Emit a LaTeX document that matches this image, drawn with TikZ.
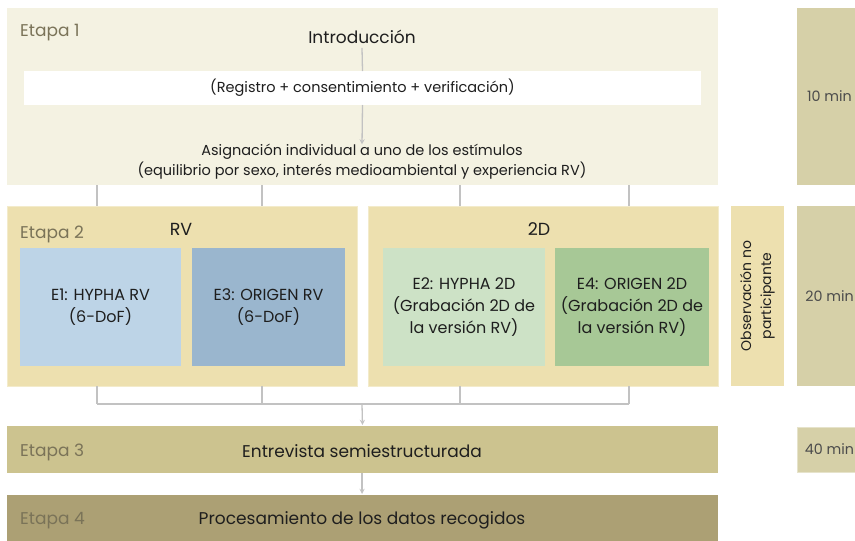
\documentclass[tikz,border=0pt]{standalone}
\usepackage{fontspec}
\setmainfont{Poppins}
\usetikzlibrary{positioning, arrows, calc}
\definecolor{crema}{HTML}{F4F2E2}
\definecolor{arena}{HTML}{EDE0AF}
\definecolor{arenaborde}{HTML}{F3EBCB}
\definecolor{azulclaro}{HTML}{BDD4E7}
\definecolor{azul}{HTML}{9AB6CE}
\definecolor{verdeclaro}{HTML}{CDE2C6}
\definecolor{verde}{HTML}{A7C896}
\definecolor{tiempo}{HTML}{D6D0A8}
\definecolor{oliva}{HTML}{CCC38F}
\definecolor{olivaoscuro}{HTML}{ACA074}
\definecolor{etiqueta}{HTML}{7A7358}
\definecolor{conector}{HTML}{C2C2C2}
\definecolor{texto}{HTML}{1E1E1E}
\tikzset{
  fase/.style={
	inner sep=0pt, outer sep=0pt, % sizes are given by the minimum sizes
	text=texto, font=\fontsize{17}{20}\selectfont,
  },
  caja/.style={fase, minimum width=#1}, % box with a given width
  estimulo/.style={fase, minimum height=118pt, align=center,
	font=\fontsize{16}{22}\selectfont}, % the four stimuli
  etapa/.style={anchor=west, inner sep=0pt, text=etiqueta, font=\fontsize{17}{20}\selectfont}, % Etapa n
  minutos/.style={fase, fill=tiempo, minimum width=58pt, text=black!70,
	font=\fontsize{14.3}{17}\selectfont},
  conn/.style={draw=conector, line width=1.3pt},
  flecha/.style={conn, ->, >=stealth, shorten >=1pt},
}
\begin{document}
\begin{tikzpicture}[x=1pt, y=-1pt]
\useasboundingbox (0,0) rectangle (855,541);

% Etapa 1
\node[caja=711pt, fill=crema, minimum height=177pt] (etapa1) at (362.5,96.5) {};
\node[caja=677pt, fill=white, minimum height=34pt, font=\fontsize{14.5}{17}\selectfont]
	(registro) at (362.5,88) {(Registro + consentimiento + verificación)};
\node[fase] (intro) at (362,37) {Introducción};
\node[fase, align=center, font=\fontsize{14.5}{20}\selectfont] (asignacion) at (362,162)
	{Asignación individual a uno de los estímulos\\(equilibrio por sexo, interés medioambiental y experiencia RV)};
\node[etapa] (et1) at (20,33) {Etapa 1};

% Etapa 2
\node[caja=350pt, fill=arena, draw=arenaborde, minimum height=180pt] (rv) at (182,296) {};
\node[caja=350pt, fill=arena, draw=arenaborde, minimum height=180pt] (dosd) at (543,296) {};
\node[fase, font=\fontsize{17.5}{20}\selectfont] (rvtit) at (181,229) {RV};
\node[fase, font=\fontsize{17.5}{20}\selectfont] (dosdtit) at (539,229) {2D};
\node[etapa] (et2) at (20,234) {Etapa 2};

\node[estimulo, fill=azulclaro, minimum width=161pt] (e1) at (100.5,307) {E1: HYPHA RV\\(6-DoF)};
\node[estimulo, fill=azul, minimum width=153pt, right=11pt of e1] (e3) {E3: ORIGEN RV\\(6-DoF)};
\node[estimulo, fill=verdeclaro, minimum width=162pt] (e2) at (464,307)
	{E2: HYPHA 2D\\(Grabación 2D de\\la versión RV)};
\node[estimulo, fill=verde, minimum width=154pt, right=10pt of e2] (e4)
	{E4: ORIGEN 2D\\(Grabación 2D de\\la versión RV)};

\node[fase, fill=arena, minimum width=53pt, minimum height=180pt] (obs) at (757.5,296) {};
\node[fase, rotate=90, align=center, font=\fontsize{14}{20}\selectfont] (obstxt) at (obs)
	{Observación no\\participante};

% Etapas 3 y 4
\node[caja=711pt, fill=oliva, minimum height=47pt] (etapa3) at (362.5,449.5) {};
\node[fase] (entrevista) at (362,451) {Entrevista semiestructurada};
\node[etapa] (et3) at (20,452) {Etapa 3};
\node[caja=711pt, fill=olivaoscuro, minimum height=46pt] (etapa4) at (362.5,518) {};
\node[fase] (procesamiento) at (362,520) {Procesamiento de los datos recogidos};
\node[etapa] (et4) at (20,521) {Etapa 4};

% tiempos
\node[minutos, minimum height=177pt] (t1) at (826,96.5) {\hspace{7pt}10 min};
\node[minutos, minimum height=180pt] (t2) at (826,296) {\hspace{7pt}20 min};
\node[minutos, minimum height=45pt, draw=tiempo!60!white] (t3) at (826,449.5) {\hspace{7pt}40 min};

% conectores
\coordinate (c1) at (97,0);
\coordinate (c2) at (262,0);
\coordinate (c3) at (460,0);
\coordinate (c4) at (629,0);
\coordinate (union) at (362,404);
\draw[conn] (intro.south) ++(0,4) -- (registro.north);
\draw[flecha] (registro.south) -- ($(asignacion.north)+(0,1)$);
\foreach \c in {c1,c2} {
  \draw[conn] (etapa1.south -| \c) -- (rv.north -| \c);
  \draw[conn] (rv.south -| \c) -- (union -| \c);
}
\foreach \c in {c3,c4} {
  \draw[conn] (etapa1.south -| \c) -- (dosd.north -| \c);
  \draw[conn] (dosd.south -| \c) -- (union -| \c);
}
\draw[conn] (union -| c1) -- (union -| c4);
\draw[flecha] (union) -- (etapa3.north);
\draw[flecha] (etapa3.south -| union) -- (etapa4.north -| union);
\end{tikzpicture}
\end{document}
